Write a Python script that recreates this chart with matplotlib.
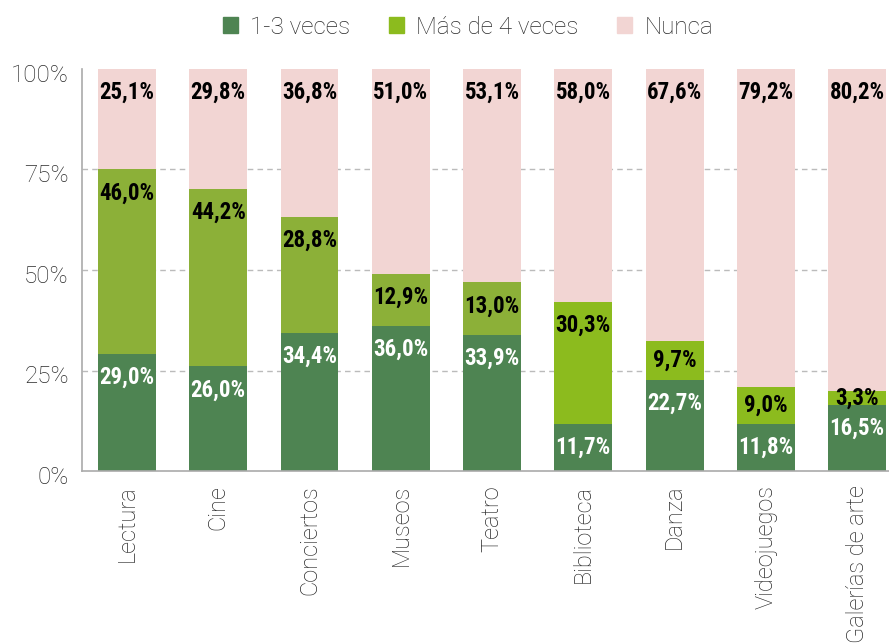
import matplotlib
matplotlib.use("Agg")
import matplotlib.pyplot as plt
from matplotlib.patches import Patch
from matplotlib import font_manager as fm
import matplotlib.transforms as mtransforms
import numpy as np

categories = ["Lectura", "Cine", "Conciertos", "Museos", "Teatro",
              "Biblioteca", "Danza", "Videojuegos", "Galerías de arte"]
series_names = ["1-3 veces", "Más de 4 veces", "Nunca"]
veces_1_3 = [29.0, 26.0, 34.4, 36.0, 33.9, 11.7, 22.7, 11.8, 16.5]
mas_de_4 = [46.0, 44.2, 28.8, 12.9, 13.0, 30.3, 9.7, 9.0, 3.3]
nunca = [25.1, 29.8, 36.8, 51.0, 53.1, 58.0, 67.6, 79.2, 80.2]
y_ticks = [0, 25, 50, 75, 100]
y_tick_labels = ["0%", "25%", "50%", "75%", "100%"]

dark = "#4e8452"
light_a = "#8cb038"
light_b = "#8cbb1e"
pink = "#f2d5d3"
light_colors = [light_a] * 5 + [light_b] * 4

plt.rcParams['font.family'] = ['Roboto', 'DejaVu Sans']

names = {f.name for f in fm.fontManager.ttflist}
cond = [(f.name, f.stretch) for f in fm.fontManager.ttflist
        if ('Condensed' in f.name or 'Narrow' in f.name or str(f.stretch) in ('condensed', 'semi-condensed', 'extra-condensed'))]
label_fam = None
label_stretch = 'normal'
for cand in ['Roboto Condensed', 'Liberation Sans Narrow', 'DejaVu Sans Condensed']:
    if cand in names:
        label_fam = cand
        break
if label_fam is None:
    for n, st in cond:
        label_fam = n
        label_stretch = st
        break
if label_fam is None:
    label_fam = 'Roboto'
label_size = 16.5 if label_fam != 'Roboto' else 14.5

fig = plt.figure(figsize=(8.89, 6.43), dpi=100)
ax = fig.add_axes([82/889, 1-471/643, 1-82/889, (471-69)/643])

x = np.arange(len(categories))
w = 0.635
b1 = np.array(veces_1_3)
b2 = np.array(mas_de_4)
b3 = np.array(nunca)

ax.bar(x, b1, w, color=dark, zorder=2)
ax.bar(x, b2, w, bottom=b1, color=light_colors, zorder=2)
ax.bar(x, b3, w, bottom=b1 + b2, color=pink, zorder=2)

ax.set_xlim(-0.493, 8.35)
ax.set_ylim(0, 100)
ax.set_yticks(y_ticks)
ax.set_yticklabels(y_tick_labels, fontsize=17.5, fontweight='light', color='#2a2a2a')
ax.set_xticks(x)
ax.set_xticklabels(categories, rotation=90, fontsize=17, fontweight='light', color='#2a2a2a')
ax.tick_params(axis='both', length=0)
ax.tick_params(axis='y', pad=9.5)
ax.tick_params(axis='x', pad=10)

shift = mtransforms.ScaledTranslation(0, -4/100, fig.dpi_scale_trans)
for t in ax.get_yticklabels():
    t.set_transform(t.get_transform() + shift)

for g in [25, 50, 75]:
    ax.axhline(g, color='#bbbbbb', lw=1, ls=(0, (4, 3)), zorder=1)

for s in ['top', 'right']:
    ax.spines[s].set_visible(False)
for s in ['left', 'bottom']:
    ax.spines[s].set_color('#aaaaaa')
    ax.spines[s].set_linewidth(1.2)

off = 5.8

def lab(xi, bottom, h, color):
    top = bottom + h
    y = top - min(off, h / 2)
    if top > 100:
        y = 100 - off
    ax.text(xi, y, f"{h:.1f}%".replace('.', ','), ha='center', va='center',
            fontsize=label_size, fontweight='bold', family=[label_fam, 'Roboto'],
            fontstretch=label_stretch, color=color, zorder=3)

for i in range(len(categories)):
    lab(x[i], 0, b1[i], 'white')
    lab(x[i], b1[i], b2[i], 'black')
    lab(x[i], b1[i] + b2[i], b3[i], 'black')

handles = [Patch(color=dark), Patch(color=light_b), Patch(color=pink)]
fig.legend(handles, series_names, loc='center', bbox_to_anchor=(468/889, 1-27/643),
           ncol=3, frameon=False, handlelength=0.62, handleheight=0.62,
           handletextpad=0.5, columnspacing=1.6,
           prop={'family': ['Roboto'], 'weight': 'light', 'size': 17.5})
for t in fig.legends[0].get_texts():
    t.set_color('#2a2a2a')

fig.savefig("out.png", dpi=100)
